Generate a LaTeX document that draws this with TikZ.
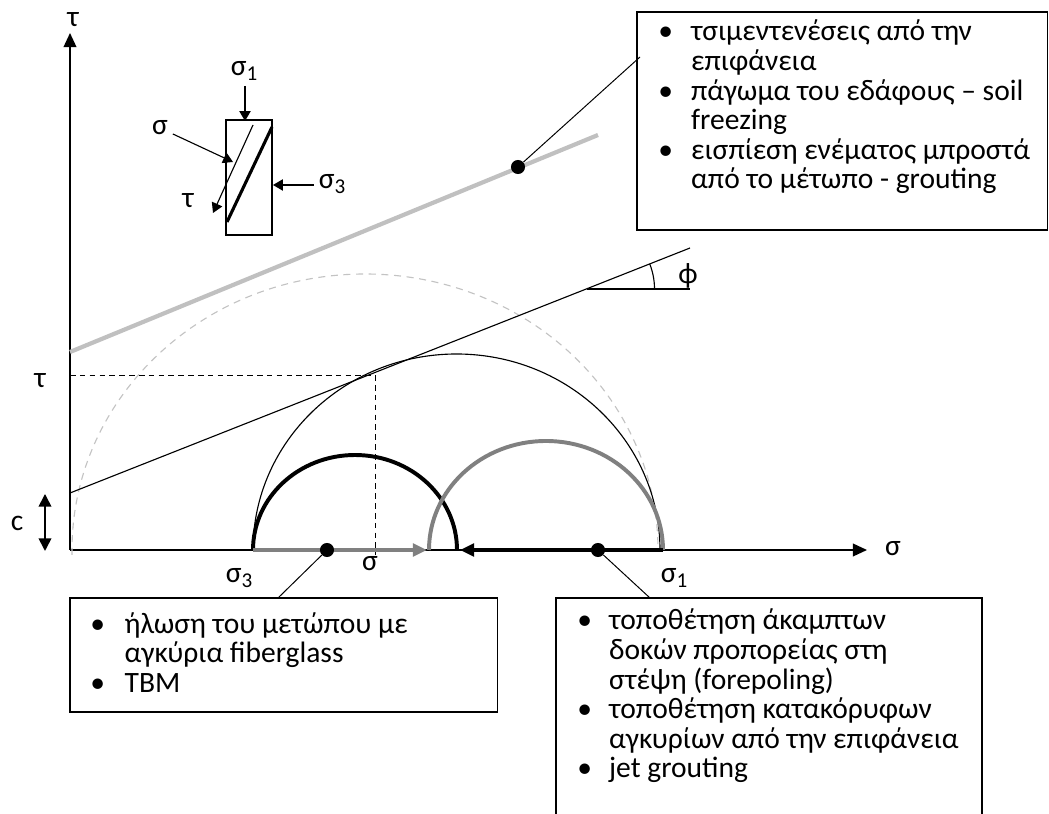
\documentclass[tikz,border=0pt]{standalone}
\usepackage{fontspec}
\setmainfont{Carlito}
\usetikzlibrary{arrows.meta,positioning,calc}
\definecolor{envGray}{RGB}{192,192,192}
\definecolor{midGray}{RGB}{128,128,128}
\definecolor{dashGray}{RGB}{195,195,195}
\newcommand{\lowsub}[1]{\raisebox{-0.4ex}{\fontsize{15}{15}\selectfont #1}}
\newcommand{\bl}[1]{\makebox[#1][l]{•}}
\newcommand{\ind}[1]{\hspace*{#1}}
\newcommand{\measurelist}[1]{\parbox[t]{11cm}{\raggedright\lineskiplimit=-100pt #1}}

\begin{document}
\begin{tikzpicture}[x=0.025cm,y=0.025cm,
    font=\fontsize{21}{21}\selectfont,
    axis/.style={line width=1.2pt,-{Triangle[length=10pt,width=9pt]}},
    thinline/.style={line width=0.8pt},
    guide/.style={line width=0.7pt,dash pattern=on 4pt off 3pt},
    infobox/.style={draw,line width=0.8pt,inner sep=0pt},
    dotmark/.style={circle,fill,inner sep=0pt,minimum size=10pt},
    leader/.style={line width=0.7pt},
    smallarrow/.style={line width=0.8pt,-{Triangle[length=7pt,width=8pt]}},
    axisarrow/.style={line width=2.8pt,-{Triangle[length=10pt,width=9pt]}}
  ]
  \useasboundingbox (-70,-263) rectangle (979,550);
  %% Axes
  \coordinate (O) at (0,0);
  \coordinate (tauend) at (0,517);
  \coordinate (sigend) at (797,0);
  \draw[axis] (O) -- (tauend);
  \draw[axis] (O) -- (sigend);
  \node (taulbl) at (3,530) {τ};
  \node (siglbl) at (823,1) {σ};
  %% Improved envelope (dashed circle and gray line)
  \draw[dashGray,line width=0.8pt,dash pattern=on 5pt off 4pt]
    ([shift={(181:293 and 276)}]295,0) arc[start angle=181,end angle=0,x radius=293,y radius=276];
  \coordinate (genv0) at (0,198);
  \coordinate (genv1) at (528,415);
  \draw[envGray,line width=3pt] (genv0) -- (genv1);
  \node[dotmark] (gdot) at (448,383) {};
  %% Failure line and friction angle
  \coordinate (cint) at (0,57);
  \coordinate (fend) at (620,302);
  \draw[thinline] (cint) -- (fend);
  \coordinate (phiv) at (516.5,261);
  \coordinate (phih) at (620,261);
  \draw[thinline] (phiv) -- (phih);
  \draw[thinline] ([shift={(0:68)}]phiv) arc[start angle=0,end angle=21.55,radius=68];
  \node (philbl) at (618,274) {ϕ};
  %% Tangent point
  \coordinate (T) at (305,175);
  \coordinate (tauax) at (0,175);
  \coordinate (sigax) at (305,-5);
  \draw[guide] (tauax) -- (T) -- (sigax);
  \node (taupt) at (-30,169) {τ};
  %% Cohesion
  \coordinate (cbot) at (-25,-1);
  \coordinate (ctop) at (-25,56);
  \draw[line width=1.2pt,{Triangle[length=9pt,width=9pt]}-{Triangle[length=9pt,width=9pt]}] (cbot) -- (ctop);
  \node (clbl) at (-53,27) {c};
  %% Mohr circles
  \draw[thinline] (183,0) arc[start angle=180,end angle=0,x radius=203.5,y radius=196];
  \draw[line width=2.8pt] (183,0) arc[start angle=180,end angle=0,x radius=102,y radius=95];
  \draw[midGray,line width=2.8pt] (359,0) arc[start angle=180,end angle=0,x radius=117,y radius=109];
  \coordinate (s3) at (183,0);
  \coordinate (s1) at (593,0);
  \coordinate (gtip) at (357,0);
  \coordinate (btip) at (390,0);
  \draw[axisarrow,midGray] (s3) -- (gtip);
  \draw[axisarrow] (s1) -- (btip);
  \node[dotmark] (sdotL) at (257,0) {};
  \node[dotmark] (sdotR) at (528,0) {};
  \node (s3lbl) at (169,-28) {σ\lowsub{3}};
  \node (sglbl) at (300,-14) {σ};
  \node (s1lbl) at (604,-28) {σ\lowsub{1}};
  %% Element under load
  \draw[thinline] (156,315) rectangle (202,430);
  \draw[line width=2.2pt] (157,328) -- (202,423);
  \coordinate (planetop) at (183,425);
  \coordinate (tautip) at (143,337);
  \draw[smallarrow] (planetop) -- (tautip);
  \node (intau) at (118,349) {τ};
  \node (insig) at (90,422) {σ};
  \coordinate (sigtip) at (163,388);
  \draw[smallarrow] (insig) -- (sigtip);
  \node (insig1) at (174,479) {σ\lowsub{1}};
  \coordinate (sig1tip) at (175,429);
  \draw[smallarrow] (insig1.south -| sig1tip) -- (sig1tip);
  \node (insig3) at (262,366) {σ\lowsub{3}};
  \coordinate (sig3tip) at (203,365);
  \draw[smallarrow] (insig3.west |- sig3tip) -- (sig3tip);
  %% Boxes of measures
  \node[infobox,minimum width=10.25cm,minimum height=5.45cm] (topbox) at (772,429) {};
  \node[anchor=base west,inner sep=0pt] (toptext) at (588,509) {\measurelist{%
      \bl{23.4pt}τσιμεντενέσεις από την\\
      \ind{23.4pt}επιφάνεια\\
      \bl{23.4pt}πάγωμα του εδάφους – soil\\
      \ind{23.4pt}freezing\\
      \bl{23.4pt}εισπίεση ενέματος μπροστά\\
      \ind{23.4pt}από το μέτωπο - grouting}};
  \coordinate (topleader) at (570,493);
  \draw[leader] (gdot) -- (topleader);

  \node[infobox,minimum width=10.675cm,minimum height=2.85cm] (leftbox) at (213.5,-105) {};
  \node[anchor=base west,inner sep=0pt] (lefttext) at (20,-83) {\measurelist{%
      \bl{24.5pt}ήλωση του μετώπου με\\
      \ind{24.5pt}αγκύρια fiberglass\\
      \bl{24.5pt}TBM}};
  \coordinate (leftleader) at (208,-48);
  \draw[leader] (sdotL) -- (leftleader);

  \coordinate (rbl) at (486,-280);
  \coordinate (rtl) at (486,-48);
  \coordinate (rtr) at (912,-48);
  \coordinate (rbr) at (912,-280);
  \draw[line width=0.8pt] (rbl) -- (rtl) -- (rtr) -- (rbr);
  \node[anchor=base west,inner sep=0pt] (righttext) at (507,-80) {\measurelist{%
      \bl{22.7pt}τοποθέτηση άκαμπτων\\
      \ind{22.7pt}δοκών προπορείας στη\\
      \ind{22.7pt}στέψη (forepoling)\\
      \bl{22.7pt}τοποθέτηση κατακόρυφων\\
      \ind{22.7pt}αγκυρίων από την επιφάνεια\\
      \bl{22.7pt}jet grouting}};
  \coordinate (rightleader) at (580,-48);
  \draw[leader] (sdotR) -- (rightleader);
\end{tikzpicture}
\end{document}
